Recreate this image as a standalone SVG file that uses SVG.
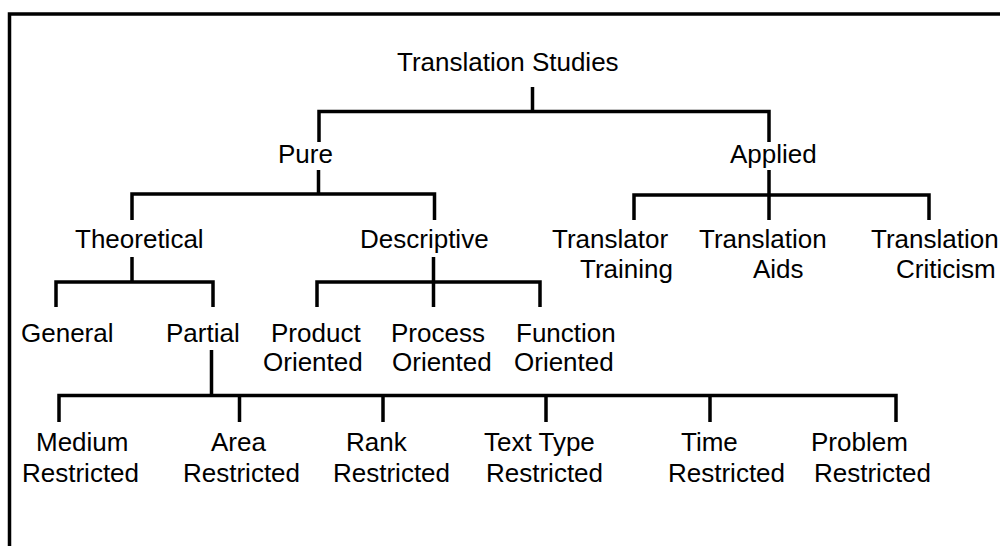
<svg xmlns="http://www.w3.org/2000/svg" width="1000" height="546" viewBox="0 0 1000 546">
<style>
text{font-family:"Liberation Sans",Arial,sans-serif;font-size:26px;fill:#000}
.c{fill:none;stroke:#000;stroke-width:3.5;stroke-linejoin:miter;stroke-linecap:butt}
.f{fill:none;stroke:#000;stroke-width:3.5}
</style>
<rect width="1000" height="546" fill="#fff"/>
<path class="f" d="M9.5 546 V14 H1000"/>
<g id="connectors">
<path class="c" d="M532.5 87 V111.5 M319 142 V111.5 H769 V142"/>
<path class="c" d="M318.5 170 V194 M132 220 V194 H434.5 V220"/>
<path class="c" d="M769 170 V220 M634 220 V195 H929 V220"/>
<path class="c" d="M132 257 V282 M56 307 V282 H213 V307"/>
<path class="c" d="M433.5 257 V307 M317 307 V282 H540 V307"/>
<path class="c" d="M211.5 350 V395.5 M59 422 V395.5 H896 V422 M239.5 395.5 V422 M383 395.5 V422 M546 395.5 V422 M710 395.5 V422"/>
</g>
<g id="n-translation-studies"><text x="397" y="71">Translation Studies</text></g>
<g id="n-pure"><text x="278" y="163">Pure</text></g>
<g id="n-applied"><text x="730" y="163">Applied</text></g>
<g id="n-theoretical"><text x="75" y="248">Theoretical</text></g>
<g id="n-descriptive"><text x="360" y="248">Descriptive</text></g>
<g id="n-translator-training"><text x="552" y="248">Translator</text><text x="580" y="278">Training</text></g>
<g id="n-translation-aids"><text x="699" y="248">Translation</text><text x="753" y="278">Aids</text></g>
<g id="n-translation-criticism"><text x="871" y="248">Translation</text><text x="896" y="278">Criticism</text></g>
<g id="n-general"><text x="21" y="342">General</text></g>
<g id="n-partial"><text x="166" y="342">Partial</text></g>
<g id="n-product"><text x="271" y="342">Product</text><text x="263" y="371">Oriented</text></g>
<g id="n-process"><text x="391" y="342">Process</text><text x="392" y="371">Oriented</text></g>
<g id="n-function"><text x="516" y="342">Function</text><text x="514" y="371">Oriented</text></g>
<g id="n-medium"><text x="36" y="451">Medium</text><text x="22" y="482">Restricted</text></g>
<g id="n-area"><text x="211" y="451">Area</text><text x="183" y="482">Restricted</text></g>
<g id="n-rank"><text x="346" y="451">Rank</text><text x="333" y="482">Restricted</text></g>
<g id="n-text-type"><text x="484" y="451">Text Type</text><text x="486" y="482">Restricted</text></g>
<g id="n-time"><text x="681" y="451">Time</text><text x="668" y="482">Restricted</text></g>
<g id="n-problem"><text x="811" y="451">Problem</text><text x="814" y="482">Restricted</text></g>
</svg>
